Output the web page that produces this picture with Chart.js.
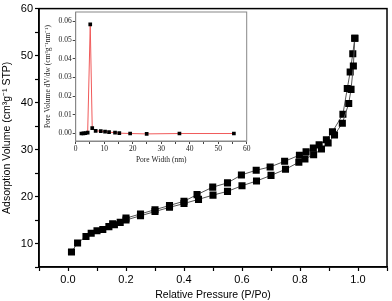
<!DOCTYPE html>
<html><head><meta charset="utf-8">
<script src="https://cdn.jsdelivr.net/npm/chart.js@4.4.0/dist/chart.umd.min.js"></script>
<style>
html,body{margin:0;padding:0;background:#fff;}
#wrap{position:relative;width:392px;height:301px;}
#main{position:absolute;left:0;top:0;}
#inset{position:absolute;left:42px;top:0;}
</style></head>
<body>
<div id="wrap">
<canvas id="main" width="392" height="301"></canvas>
<canvas id="inset" width="213" height="167"></canvas>
</div>
<script>
// Main isotherm data
const adsorptionP = [0.012,0.033,0.062,0.080,0.100,0.120,0.141,0.160,0.180,0.200,0.250,0.300,0.350,0.400,0.450,0.500,0.550,0.600,0.650,0.700,0.750,0.796,0.817,0.847,0.874,0.897,0.919,0.946,0.968,0.976,0.984,0.989];
const adsorptionV = [8.2,10.1,11.5,12.2,12.7,13.0,13.6,14.0,14.5,15.0,15.9,16.8,17.7,18.5,19.4,20.3,21.1,22.3,23.3,24.5,25.8,27.3,28.0,28.9,30.1,31.4,33.1,35.6,39.8,42.8,47.8,53.7];
const desorptionP = [0.989,0.982,0.973,0.963,0.948,0.912,0.891,0.866,0.846,0.821,0.798,0.747,0.697,0.649,0.598,0.550,0.499,0.445,0.400,0.350,0.300,0.250,0.200,0.154];
const desorptionV = [53.7,50.4,46.5,43.0,37.5,33.8,32.1,31.0,30.3,29.5,28.8,27.5,26.3,25.6,24.6,22.9,22.0,20.4,19.0,18.1,17.2,16.3,15.4,14.2];
const mainXTicks = [0.0,0.2,0.4,0.6,0.8,1.0];
const mainYTicks = [10,20,30,40,50,60];

// Inset pore size distribution
const poreWidth = [2.0,2.7,3.4,4.2,5.1,5.8,7.0,8.8,10.3,11.7,13.8,15.3,19.1,24.9,36.4,55.5];
const poreVolume = [0.0000,0.0001,0.0002,0.0005,0.0584,0.0029,0.0014,0.0013,0.0010,0.0007,0.0005,0.0002,0.0000,-0.0002,0.0000,0.0000];
const insetXTicks = [0,10,20,30,40,50,60];
const insetYTicks = [0.00,0.01,0.02,0.03,0.04,0.05,0.06];

const near = (v, arr) => arr.some(a => Math.abs(a - v) < 1e-6);
const pts = (xs, ys) => xs.map((x, i) => ({x, y: ys[i]}));

const frame = (color, w) => ({
  id: 'frame',
  afterDraw(chart) {
    const {ctx, chartArea: a} = chart;
    ctx.save();
    ctx.strokeStyle = color; ctx.lineWidth = w;
    ctx.strokeRect(a.left, a.top, a.right - a.left, a.bottom - a.top);
    ctx.restore();
  }
});

const sans = 'Arial, "Liberation Sans", sans-serif';
const serif = '"Times New Roman", "Liberation Serif", serif';

new Chart(document.getElementById('main'), {
  type: 'line',
  data: {
    datasets: [
      {data: pts(adsorptionP, adsorptionV), borderColor: '#555', borderWidth: 1, pointStyle: 'rect', pointRadius: 5, pointBackgroundColor: '#000', pointBorderWidth: 0, tension: 0},
      {data: pts(desorptionP, desorptionV), borderColor: '#555', borderWidth: 1, pointStyle: 'rect', pointRadius: 5, pointBackgroundColor: '#000', pointBorderWidth: 0, tension: 0}
    ]
  },
  options: {
    responsive: false, animation: false, devicePixelRatio: 1,
    layout: {padding: {top: 6, right: 1, left: 0, bottom: 0}},
    plugins: {legend: {display: false}, tooltip: {enabled: false}},
    scales: {
      x: {
        type: 'linear', min: -0.1, max: 1.1,
        afterFit(s) { s.height = 34; },
        ticks: {stepSize: 0.1, autoSkip: false, maxRotation: 0, color: '#000', font: {family: sans, size: 11}, padding: 2,
          callback: v => near(v, mainXTicks) ? v.toFixed(1) : ''},
        grid: {drawOnChartArea: false, drawTicks: true, tickLength: 4, color: '#000', tickWidth: 1.2},
        border: {display: true, color: '#000', width: 1.5},
        title: {display: true, text: 'Relative Pressure (P/Po)', color: '#000', font: {family: sans, size: 10.5}, padding: {top: 0, bottom: 0}}
      },
      y: {
        type: 'linear', min: 5, max: 60,
        afterFit(s) { s.width = 39; },
        ticks: {stepSize: 5, autoSkip: false, color: '#000', font: {family: sans, size: 11}, padding: 2,
          callback: v => near(v, mainYTicks) ? String(v) : ''},
        grid: {drawOnChartArea: false, drawTicks: true, tickLength: 4, color: '#000', tickWidth: 1.2},
        border: {display: true, color: '#000', width: 1.5},
        title: {display: true, text: 'Adsorption Volume (cm\u00B3g\u207B\u00B9 STP)', color: '#000', font: {family: sans, size: 10.5}, padding: {top: 1, bottom: 0}}
      }
    }
  },
  plugins: [frame('#000', 1.5)]
});

new Chart(document.getElementById('inset'), {
  type: 'line',
  data: {
    datasets: [
      {data: pts(poreWidth, poreVolume), borderColor: '#f05a5a', borderWidth: 1, pointStyle: 'rect', pointRadius: 2.6, pointBackgroundColor: '#000', pointBorderWidth: 0, tension: 0}
    ]
  },
  options: {
    responsive: false, animation: false, devicePixelRatio: 1,
    layout: {padding: {top: 12, right: 8.3, left: 0, bottom: 0}},
    plugins: {legend: {display: false}, tooltip: {enabled: false}},
    scales: {
      x: {
        type: 'linear', min: 0, max: 60,
        afterFit(s) { s.height = 26; },
        ticks: {stepSize: 5, autoSkip: false, maxRotation: 0, color: '#222', font: {family: serif, size: 7.5}, padding: 1,
          callback: v => near(v, insetXTicks) ? String(v) : ''},
        grid: {drawOnChartArea: false, drawTicks: true, tickLength: 3, color: '#444'},
        border: {display: true, color: '#888', width: 1},
        title: {display: true, text: 'Pore Width (nm)', color: '#222', font: {family: serif, size: 7.5}, padding: {top: 0, bottom: 2}}
      },
      y: {
        type: 'linear', min: -0.004, max: 0.065,
        afterFit(s) { s.width = 33.7; },
        ticks: {stepSize: 0.01, includeBounds: false, autoSkip: false, color: '#222', font: {family: serif, size: 7.5}, padding: 1,
          callback: v => near(v, insetYTicks) ? v.toFixed(2) : ''},
        grid: {drawOnChartArea: false, drawTicks: true, tickLength: 3, color: '#444'},
        border: {display: true, color: '#888', width: 1},
        title: {display: true, text: 'Pore Volume dV/dw (cm\u00B3g\u207B\u00B9nm\u207B\u00B9)', color: '#222', font: {family: serif, size: 7.5}, padding: {top: 2, bottom: 0}}
      }
    }
  },
  plugins: [frame('#888', 1)]
});
</script>
</body></html>
